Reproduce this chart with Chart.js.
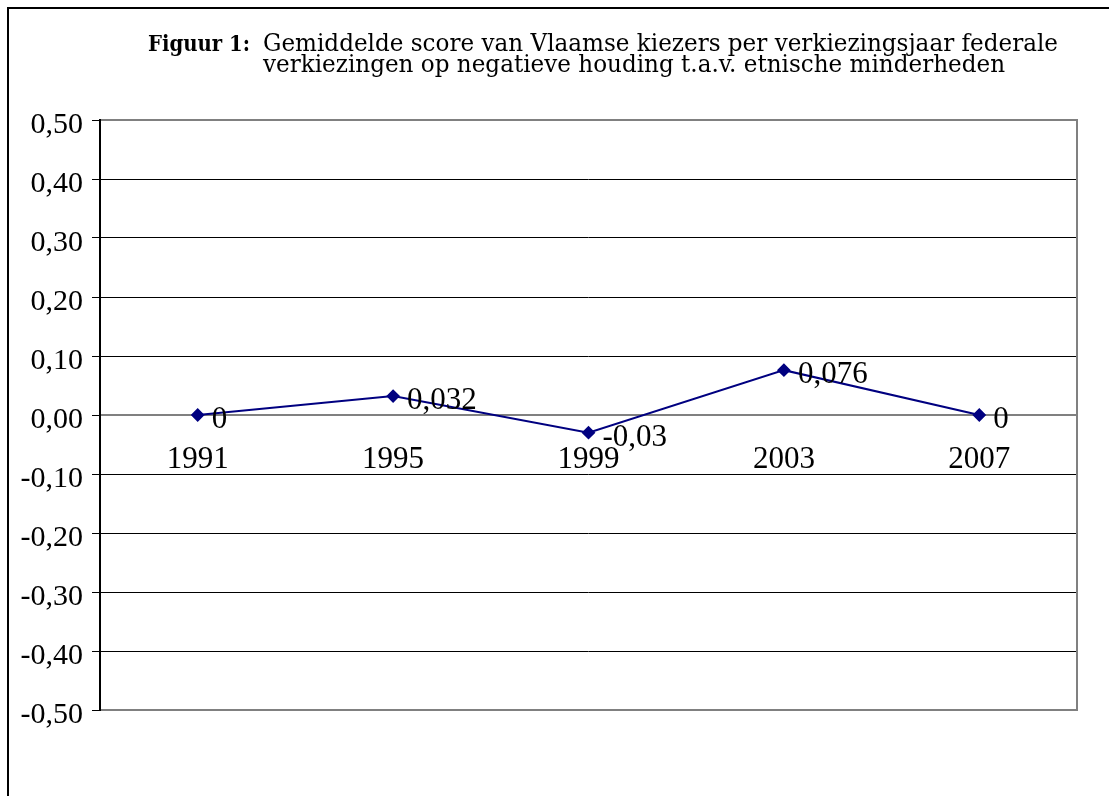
<!DOCTYPE html>
<html><head><meta charset="utf-8">
<script src="https://cdn.jsdelivr.net/npm/chart.js@4"></script>
<style>html,body{margin:0;padding:0;background:#fff}#wrap{width:1109px;height:796px}</style>
</head><body><div id="wrap"><canvas id="c" width="1109" height="796"></canvas></div>
<script>
const categories = ['1991', '1995', '1999', '2003', '2007'];
const scores = [0, 0.032, -0.03, 0.076, 0];
const yMin = -0.5, yMax = 0.5, yStep = 0.1;
const titleBold = 'Figuur 1:';
const titleLines = ['Gemiddelde score van Vlaamse kiezers per verkiezingsjaar federale',
                    'verkiezingen op negatieve houding t.a.v. etnische minderheden'];

const fmtComma = v => String(v).replace('.', ',');
const serif = "'Liberation Serif', 'Times New Roman', serif";
const titleFont = "'DejaVu Serif', serif";

function drawScaled(ctx, text, x, y, sx) {
  ctx.save();
  ctx.translate(x, y);
  ctx.scale(sx, 1);
  ctx.fillText(text, 0, 0);
  ctx.restore();
}

const framePlugin = {
  id: 'frame',
  beforeDraw(chart) {
    const ctx = chart.ctx;
    ctx.save();
    ctx.fillStyle = '#fff';
    ctx.fillRect(0, 0, chart.width, chart.height);
    ctx.strokeStyle = '#000';
    ctx.lineWidth = 2;
    ctx.beginPath();
    ctx.moveTo(1109, 8); ctx.lineTo(8, 8); ctx.lineTo(8, 796);
    ctx.stroke();
    // title
    ctx.fillStyle = '#000';
    ctx.textBaseline = 'alphabetic';
    ctx.textAlign = 'left';
    ctx.font = "24px " + titleFont;
    const sx = 795 / ctx.measureText(titleLines[0]).width;
    drawScaled(ctx, titleLines[0], 263, 51, sx);
    drawScaled(ctx, titleLines[1], 263, 72, sx);
    ctx.font = "bold 22px " + titleFont;
    const bsx = 102 / ctx.measureText(titleBold).width;
    drawScaled(ctx, titleBold, 148, 51, bsx);
    ctx.restore();
  },
  beforeDatasetsDraw(chart) {
    const {ctx, chartArea: a} = chart;
    ctx.save();
    ctx.strokeStyle = '#808080';
    ctx.lineWidth = 2;
    ctx.beginPath();
    ctx.moveTo(a.left, a.top); ctx.lineTo(a.right, a.top); ctx.lineTo(a.right, a.bottom); ctx.lineTo(a.left, a.bottom);
    ctx.stroke();
    ctx.strokeStyle = '#000';
    ctx.lineWidth = 2;
    ctx.beginPath();
    ctx.moveTo(a.left, a.top - 1); ctx.lineTo(a.left, a.bottom + 1);
    ctx.stroke();
    ctx.restore();
  },
  afterDatasetsDraw(chart) {
    const ctx = chart.ctx;
    const meta = chart.getDatasetMeta(0);
    ctx.save();
    ctx.fillStyle = '#000';
    ctx.font = "31px " + serif;
    ctx.textAlign = 'left';
    ctx.textBaseline = 'middle';
    meta.data.forEach((p, i) => {
      ctx.fillText(fmtComma(scores[i]), p.x + 14, p.y + 5);
    });
    ctx.restore();
  }
};

new Chart(document.getElementById('c'), {
  type: 'line',
  data: {
    labels: categories,
    datasets: [{
      data: scores,
      borderColor: '#000080',
      backgroundColor: '#000080',
      borderWidth: 2,
      pointStyle: 'rectRot',
      pointRadius: 5.5,
      pointBackgroundColor: '#000080',
      pointBorderColor: '#000080',
      tension: 0,
      fill: false
    }]
  },
  options: {
    responsive: false,
    animation: false,
    devicePixelRatio: 1,
    layout: { padding: { top: 120, right: 32, bottom: 86, left: 0 } },
    plugins: { legend: { display: false }, title: { display: false }, tooltip: { enabled: false } },
    scales: {
      x: {
        type: 'category',
        position: { y: 0 },
        offset: true,
        grid: { display: true, drawOnChartArea: false, drawTicks: false, tickLength: 0, color: 'rgba(0,0,0,0)' },
        border: { display: true, color: '#808080', width: 2 },
        ticks: { color: '#000', font: { family: serif, size: 31 }, padding: 26, maxRotation: 0, autoSkip: false }
      },
      y: {
        min: yMin, max: yMax,
        afterFit: s => { s.width = 100; },
        grid: { color: '#000', lineWidth: 1, tickLength: 8, drawTicks: true },
        border: { display: false },
        ticks: {
          stepSize: yStep,
          color: '#000',
          padding: 9,
          labelOffset: 5,
          font: { family: serif, size: 30 },
          callback: v => { let r = Math.round(v * 100) / 100; if (Math.abs(r) < 1e-9) r = 0; return r.toFixed(2).replace('.', ','); }
        }
      }
    }
  },
  plugins: [framePlugin]
});
</script>
</body></html>
